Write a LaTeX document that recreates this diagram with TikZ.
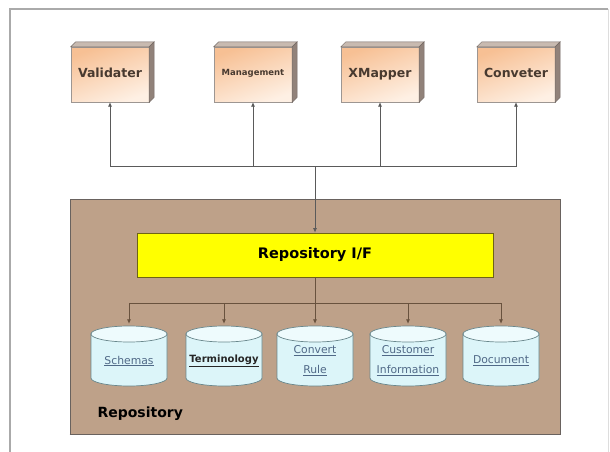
\documentclass[tikz,border=0pt]{standalone}
\usepackage{fontspec}
\setmainfont{DejaVu Sans}
\usetikzlibrary{arrows.meta,calc}

\definecolor{peachA}{RGB}{247,192,148}
\definecolor{peachB}{RGB}{254,240,228}
\definecolor{boxtop}{RGB}{200,186,176}
\definecolor{boxside}{RGB}{145,130,122}
\definecolor{boxedge}{RGB}{115,105,100}
\definecolor{comptext}{RGB}{72,58,48}
\definecolor{repofill}{RGB}{190,161,137}
\definecolor{repoedge}{RGB}{105,98,94}
\definecolor{iffill}{RGB}{255,255,0}
\definecolor{ifedge}{RGB}{110,100,20}
\definecolor{dbbody}{RGB}{220,245,249}
\definecolor{dbtop}{RGB}{238,251,253}
\definecolor{dbedge}{RGB}{105,135,140}
\definecolor{dblink}{RGB}{80,105,135}
\definecolor{wirecol}{RGB}{90,90,90}
\definecolor{wireincol}{RGB}{105,82,62}
\definecolor{framecol}{RGB}{170,170,170}

\begin{document}
\begin{tikzpicture}[x=1pt,y=-1pt,
  comp/.style={minimum width=78pt,minimum height=55pt,inner sep=0pt,
    draw=boxedge!70,line width=0.4pt,top color=peachA,bottom color=peachB,
    shading angle=20,text=comptext,font=\bfseries\fontsize{12.5}{14}\selectfont},
  depthtop/.style={fill=boxtop,draw=boxedge,line width=0.5pt},
  depthside/.style={fill=boxside,draw=boxedge,line width=0.5pt},
  repo/.style={fill=repofill,draw=repoedge,line width=0.9pt,inner sep=0pt},
  iface/.style={fill=iffill,draw=ifedge,line width=0.9pt,minimum width=356pt,
    minimum height=44pt,inner sep=0pt,font=\bfseries\fontsize{14.5}{16}\selectfont},
  db/.style={minimum width=80pt,minimum height=74pt,inner sep=0pt,align=center,
    text=dblink,font=\fontsize{10.8}{20}\selectfont,
    path picture={
      \filldraw[fill=dbbody,draw=dbedge,line width=0.7pt]
        ([shift={(-38pt,27pt)}]path picture bounding box.center)
        -- ([shift={(-38pt,-17pt)}]path picture bounding box.center)
        arc[start angle=180,end angle=360,x radius=38pt,y radius=8pt]
        -- ([shift={(38pt,27pt)}]path picture bounding box.center) -- cycle;
      \filldraw[fill=dbtop,draw=dbedge,line width=0.7pt]
        ([yshift=27pt]path picture bounding box.center)
        ellipse[x radius=38pt,y radius=8pt];
    }},
  wire/.style={draw=wirecol,line width=0.7pt},
  wirein/.style={draw=wireincol,line width=0.7pt},
  tip/.style={-{Latex[length=4.5pt,width=4pt]}}
]
\useasboundingbox (0,0) rectangle (610,452);

% outer frame: strong top and left edges, faint right edge
\draw[framecol,line width=1.3pt] (10,452) -- (10,9) -- (608,9);
\draw[framecol!40,line width=0.8pt] (608,9) -- (608,452);

% repository container and its interface
\node[repo,minimum width=490pt,minimum height=235pt] (repo) at (315,316.5) {};
\draw[repoedge,line width=1.6pt] (repo.south west) -- (repo.south east);
\node[iface] (ifc) at (315,255) {Repository I/F};
\node[anchor=west,font=\bfseries\fontsize{14}{16}\selectfont] (replabel) at (94,414) {Repository};

% client components
\node[comp] (val)  at (110,74.5) {\raisebox{4pt}{Validater}};
\node[comp,font=\bfseries\fontsize{8.5}{10}\selectfont] (mgmt) at (253,74.5) {\raisebox{5pt}{Management}};
\node[comp] (xmap) at (380,74.5) {\raisebox{4pt}{XMapper}};
\node[comp] (conv) at (516,74.5) {\raisebox{4pt}{Conveter}};

\foreach \n in {val,mgmt,xmap,conv}{
  \filldraw[depthtop] (\n.north west) -- ([shift={(5pt,5pt)}]\n.north west)
    -- ([shift={(5pt,5pt)}]\n.north east) -- (\n.north east) -- cycle;
  \filldraw[depthside] (\n.north east) -- ([shift={(5pt,5pt)}]\n.north east)
    -- ([shift={(5pt,5pt)}]\n.south east) -- (\n.south east) -- cycle;
}

% data stores
\node[db] (sch)  at (129,361) {\underline{Schemas}};
\node[db,text=black!85,font=\bfseries\fontsize{10}{20}\selectfont] (term) at (224,361) {\underline{Terminology}};
\node[db] (crule) at (315,361) {\underline{Convert}\\\underline{Rule}};
\node[db] (cust) at (408,361) {\underline{Customer}\\\underline{Information}};
\node[db] (doc)  at (501,361) {\underline{Document}};

% upper bus
\coordinate (topbus) at (315,166);
\draw[wire,tip] (topbus) -- (ifc.north);
\foreach \n in {val,mgmt,xmap,conv}
  \draw[wire,tip] (topbus) -| (\n.south);

% lower bus
\coordinate (lowbus) at (315,303);
\draw[wirein] (ifc.south) -- (lowbus);
\foreach \n in {sch,term,crule,cust,doc}
  \draw[wirein,tip] (lowbus) -| (\n.north);
\end{tikzpicture}
\end{document}
